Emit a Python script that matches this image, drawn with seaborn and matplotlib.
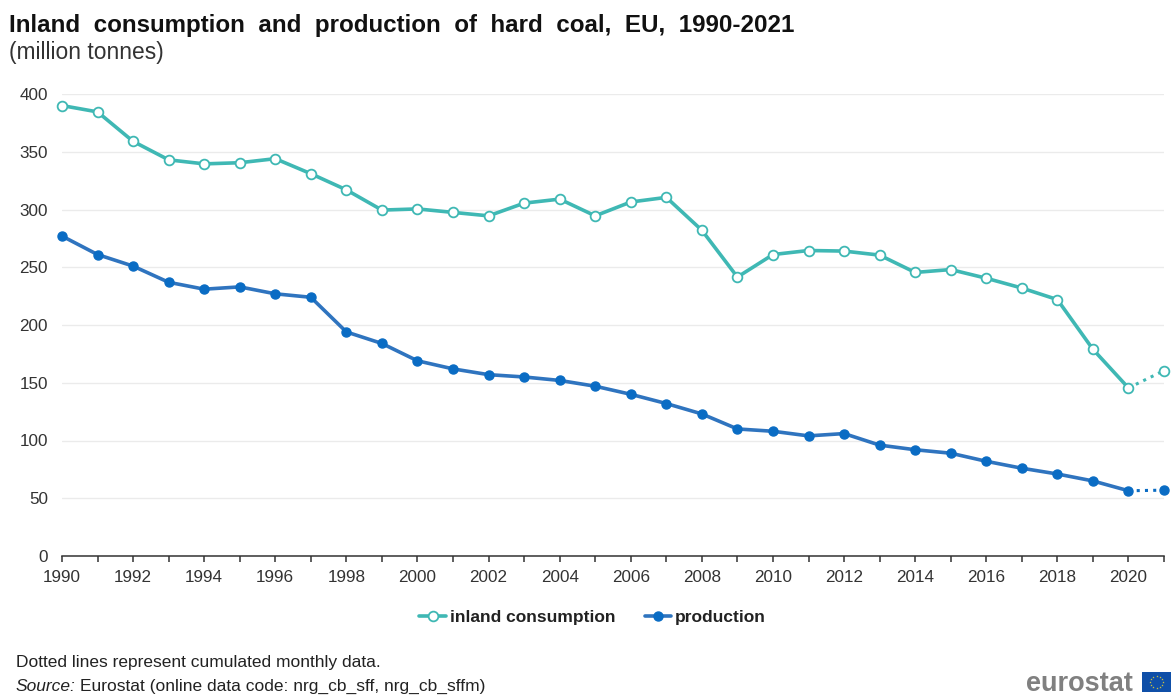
import numpy as np
import pandas as pd
import seaborn as sns
import matplotlib
matplotlib.use("Agg")
import matplotlib.pyplot as plt
from matplotlib.lines import Line2D
from matplotlib.patches import Rectangle

years = list(range(1990, 2022))
consumption = [390, 384.5, 359, 343, 339.5, 340.5, 344, 331, 317, 299.5, 300.5, 297.5, 294.5, 305.5, 309, 294.5,
               306.5, 310.5, 282, 241.5, 261, 264.5, 264, 260.5, 245.5, 248, 240.5, 232, 222, 179, 145.5, 160.5]
production = [277, 261, 251, 237, 231, 233, 227, 224, 194, 184, 169, 162, 157, 155, 152, 147,
              140, 132, 123, 110, 108, 104, 106, 96, 92, 89, 82, 76, 71, 65, 56.5, 57]
y_ticks = [0, 50, 100, 150, 200, 250, 300, 350, 400]
title = "Inland consumption and production of hard coal, EU, 1990-2021"
subtitle = "(million tonnes)"
note = "Dotted lines represent cumulated monthly data."
source = "Eurostat (online data code: nrg_cb_sff, nrg_cb_sffm)"
TEAL = "#3fb8b4"
BLUE = "#2f74bf"
DOT_BLUE = "#0a6cc4"

sns.set_theme(style="white")
plt.rcParams["font.family"] = ["Liberation Sans", "DejaVu Sans"]

W, H = 1174, 695
fig = plt.figure(figsize=(W / 100, H / 100), dpi=100)
ax = fig.add_axes([62 / W, 1 - 556 / H, (1164 - 62) / W, (556 - 94) / H])
ax.set_xlim(1990, 2021)
ax.set_ylim(0, 400)

df = pd.DataFrame({"year": years, "consumption": consumption, "production": production})
solid = df[df.year <= 2020]
dotted = df[df.year >= 2020]

for col, c, mfc in [("consumption", TEAL, "white"), ("production", BLUE, DOT_BLUE)]:
    mec = TEAL if col == "consumption" else DOT_BLUE
    sns.lineplot(data=dotted, x="year", y=col, ax=ax, color=mec, lw=2.2, clip_on=False,
                 linestyle=(0, (1, 1.7)), zorder=3, errorbar=None)
    sns.lineplot(data=solid, x="year", y=col, ax=ax, color=c, lw=2.6, clip_on=False,
                 zorder=4, errorbar=None)
    sns.lineplot(data=df, x="year", y=col, ax=ax, color=c, lw=0, clip_on=False, zorder=5,
                 marker="o", markersize=7 if col == "consumption" else 6.5,
                 markerfacecolor=mfc, markeredgecolor=mec,
                 markeredgewidth=1.3 if col == "consumption" else 1, errorbar=None)

ax.set_xlabel("")
ax.set_ylabel("")
ax.set_xticks(years)
ax.set_xticklabels([str(y) if y % 2 == 0 else "" for y in years])
ax.set_yticks(y_ticks)
ax.tick_params(axis="y", length=0, labelsize=12.3, labelcolor="#333333", pad=10)
ax.tick_params(axis="x", length=4, width=1.1, color="#333333", labelsize=12.3,
               labelcolor="#333333", pad=6, bottom=True)
ax.grid(axis="y", color="#ebebeb", lw=1, ls="-")
ax.set_axisbelow(True)
for s in ["top", "right", "left"]:
    ax.spines[s].set_visible(False)
ax.spines["bottom"].set_color("#333333")
ax.spines["bottom"].set_linewidth(1.1)

handles = [
    Line2D([], [], color=TEAL, lw=2.6, marker="o", ms=7, mfc="white", mec=TEAL, mew=1.3),
    Line2D([], [], color=BLUE, lw=2.6, marker="o", ms=6.5, mfc=DOT_BLUE, mec=DOT_BLUE),
]
fig.legend(handles, ["inland consumption", "production"], loc="center",
           bbox_to_anchor=(592.5 / W, 1 - 617 / H), ncol=2, frameon=False, handlelength=1.55,
           handletextpad=0.2, columnspacing=1.7,
           prop={"size": 12.5, "weight": "bold"}, labelcolor="#222222")


def place(x, y, s, **kw):
    return fig.text(x / W, 1 - y / H, s, va="baseline", **kw)


place(9, 32, title.replace(" ", "  "), fontsize=17.4, fontweight="bold", color="#111111")
place(9, 59, subtitle, fontsize=16.4, color="#333333")
place(16, 667, note, fontsize=12.5, color="#222222")
place(16, 691, "Source:", fontsize=12.5, style="italic", color="#222222")
place(80, 691, source, fontsize=12.5, color="#222222")
place(1026, 691, "eurostat", fontsize=19.5, fontweight="bold", color="#808080")

flag = fig.add_axes([1142 / W, 1 - 692 / H, 29 / W, 20 / H])
flag.set_xlim(-1.45, 1.45)
flag.set_ylim(-1, 1)
flag.axis("off")
flag.add_patch(Rectangle((-1.45, -1), 2.9, 2, color="#0f4fa8"))
angles = np.deg2rad(np.arange(0, 360, 30))
flag.scatter(0.62 * np.cos(angles), 0.62 * np.sin(angles), s=3, marker="*", color="#d8c93a", lw=0)

fig.savefig("out.png", dpi=100)
